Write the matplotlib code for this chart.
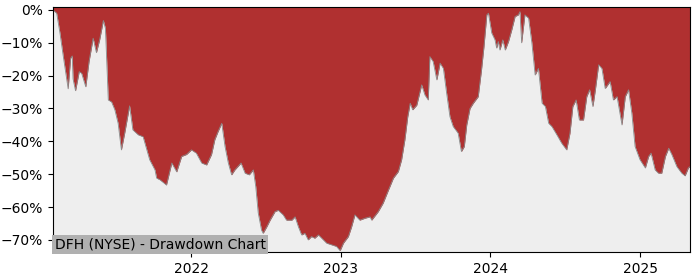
import pandas as pd
import matplotlib
matplotlib.use("Agg")
import matplotlib.pyplot as plt
import matplotlib.dates as mdates
from matplotlib.ticker import FuncFormatter

ticker_label = "DFH (NYSE) - Drawdown Chart"

# drawdown from running peak, in percent
dates = [
    "2021-01-29", "2021-02-07", "2021-02-15", "2021-02-23", "2021-03-07", "2021-03-13",
    "2021-03-17", "2021-03-19", "2021-03-25", "2021-04-03", "2021-04-09", "2021-04-19",
    "2021-04-27", "2021-05-07", "2021-05-15", "2021-05-23", "2021-06-01", "2021-06-06",
    "2021-06-13", "2021-06-21", "2021-06-29", "2021-07-07", "2021-07-15", "2021-07-23",
    "2021-08-04", "2021-08-12", "2021-08-25", "2021-09-06", "2021-09-22", "2021-10-05",
    "2021-10-09", "2021-10-17", "2021-11-02", "2021-11-15", "2021-11-27", "2021-12-09",
    "2021-12-21", "2022-01-02", "2022-01-14", "2022-01-27", "2022-02-08", "2022-02-20",
    "2022-02-28", "2022-03-08", "2022-03-17", "2022-03-25", "2022-04-02", "2022-04-10",
    "2022-04-18", "2022-05-03", "2022-05-13", "2022-05-23", "2022-06-02", "2022-06-08",
    "2022-06-14", "2022-06-22", "2022-06-26", "2022-07-05", "2022-07-13", "2022-07-25",
    "2022-08-02", "2022-08-14", "2022-08-22", "2022-09-04", "2022-09-12", "2022-09-20",
    "2022-09-28", "2022-10-06", "2022-10-14", "2022-10-22", "2022-10-30", "2022-11-08",
    "2022-11-16", "2022-11-28", "2022-12-10", "2022-12-22", "2022-12-31", "2023-01-08",
    "2023-01-20", "2023-01-28", "2023-02-05", "2023-02-17", "2023-03-02", "2023-03-14",
    "2023-03-18", "2023-04-03", "2023-04-15", "2023-04-28", "2023-05-10", "2023-05-22",
    "2023-05-30", "2023-06-07", "2023-06-14", "2023-06-20", "2023-06-26", "2023-07-06",
    "2023-07-18", "2023-07-26", "2023-08-03", "2023-08-07", "2023-08-15", "2023-08-24",
    "2023-09-01", "2023-09-09", "2023-09-17", "2023-09-25", "2023-10-03", "2023-10-15",
    "2023-10-23", "2023-10-30", "2023-11-05", "2023-11-13", "2023-11-21", "2023-12-03",
    "2023-12-11", "2023-12-17", "2023-12-24", "2023-12-28", "2024-01-05", "2024-01-13",
    "2024-01-17", "2024-01-21", "2024-01-25", "2024-02-01", "2024-02-07", "2024-02-15",
    "2024-02-23", "2024-03-02", "2024-03-10", "2024-03-14", "2024-03-18", "2024-03-26",
    "2024-04-04", "2024-04-12", "2024-04-20", "2024-04-28", "2024-05-07", "2024-05-15",
    "2024-05-23", "2024-05-31", "2024-06-12", "2024-06-24", "2024-07-06", "2024-07-14",
    "2024-07-21", "2024-07-29", "2024-08-06", "2024-08-16", "2024-08-24", "2024-08-31",
    "2024-09-08", "2024-09-14", "2024-09-22", "2024-09-30", "2024-10-08", "2024-10-20",
    "2024-10-28", "2024-11-06", "2024-11-18", "2024-11-26", "2024-12-04", "2024-12-12",
    "2024-12-20", "2025-01-01", "2025-01-14", "2025-01-22", "2025-01-28", "2025-02-07",
    "2025-02-15", "2025-02-23", "2025-03-04", "2025-03-12", "2025-03-20", "2025-04-01",
    "2025-04-13", "2025-04-21", "2025-04-29", "2025-05-03",
]
drawdown = [
    0.0, -1.0, -7.0, -14.0, -24.0, -14.7,
    -14.0, -21.0, -24.6, -18.8, -19.3, -23.4,
    -15.7, -8.6, -13.0, -9.0, -3.2, -5.6,
    -27.4, -28.0, -30.4, -34.5, -42.6, -37.5,
    -29.2, -36.5, -38.0, -38.6, -45.6, -48.7,
    -51.2, -51.7, -53.3, -46.6, -49.3, -44.6,
    -44.0, -42.6, -43.6, -46.6, -47.2, -44.0,
    -39.5, -37.0, -34.5, -41.6, -46.6, -50.2,
    -48.7, -46.6, -49.7, -50.2, -48.7, -53.8,
    -61.8, -67.0, -68.0, -66.0, -64.0, -61.4,
    -61.0, -62.4, -64.0, -64.0, -63.0, -66.0,
    -68.5, -68.0, -70.0, -69.0, -69.5, -68.5,
    -69.5, -71.0, -71.5, -72.0, -73.3, -71.0,
    -69.0, -66.0, -62.4, -64.0, -63.4, -63.0,
    -64.0, -61.4, -58.8, -54.8, -51.2, -49.2,
    -45.6, -39.5, -32.5, -28.4, -30.4, -29.0,
    -22.8, -25.9, -27.4, -14.2, -15.7, -21.3,
    -16.2, -17.8, -25.4, -32.5, -35.5, -37.5,
    -43.1, -41.6, -35.0, -30.0, -28.4, -26.4,
    -18.3, -11.2, -1.5, -1.0, -7.0, -9.1,
    -11.6, -9.6, -12.2, -9.1, -12.2, -9.6,
    -6.0, -2.0, -1.5, -0.5, -10.0, -1.5,
    -2.5, -10.0, -19.8, -17.8, -28.4, -29.4,
    -34.5, -35.5, -38.0, -40.6, -42.6, -37.5,
    -29.4, -27.4, -33.5, -33.5, -26.4, -24.3,
    -29.4, -24.3, -16.7, -17.8, -23.9, -21.8,
    -27.4, -26.4, -35.0, -26.4, -24.3, -31.4,
    -41.6, -45.6, -48.1, -44.6, -43.6, -48.7,
    -49.7, -49.7, -44.6, -42.1, -44.1, -47.7,
    -49.7, -50.5, -48.1, -47.7,
]

df = pd.DataFrame({"date": pd.to_datetime(dates), "dd": drawdown})

fig = plt.figure(figsize=(7, 2.8), dpi=100)
ax = fig.add_axes([0.0757, 0.1, 0.91, 0.875])
ax.set_facecolor("#eeeeee")

ax.fill_between(df["date"], df["dd"], 5, color="#b03030", linewidth=0)
ax.plot(df["date"], df["dd"], color="#8a8a8a", linewidth=0.6)

ax.set_xlim(df["date"].min(), df["date"].max())
ax.set_ylim(-73.7, 0.9)
ax.set_yticks(range(0, -71, -10))
ax.yaxis.set_major_formatter(FuncFormatter(lambda v, p: f"{v:.0f}%".replace("-", "\u2212")))
ax.xaxis.set_major_locator(mdates.YearLocator())
ax.xaxis.set_major_formatter(mdates.DateFormatter("%Y"))
ax.tick_params(labelsize=10)

ax.text(0.003, 0.004, ticker_label, transform=ax.transAxes, fontsize=10,
        ha="left", va="bottom", zorder=5,
        bbox=dict(facecolor="#b0b0b0", edgecolor="none", pad=1.8))

fig.savefig("out.png", dpi=100)
